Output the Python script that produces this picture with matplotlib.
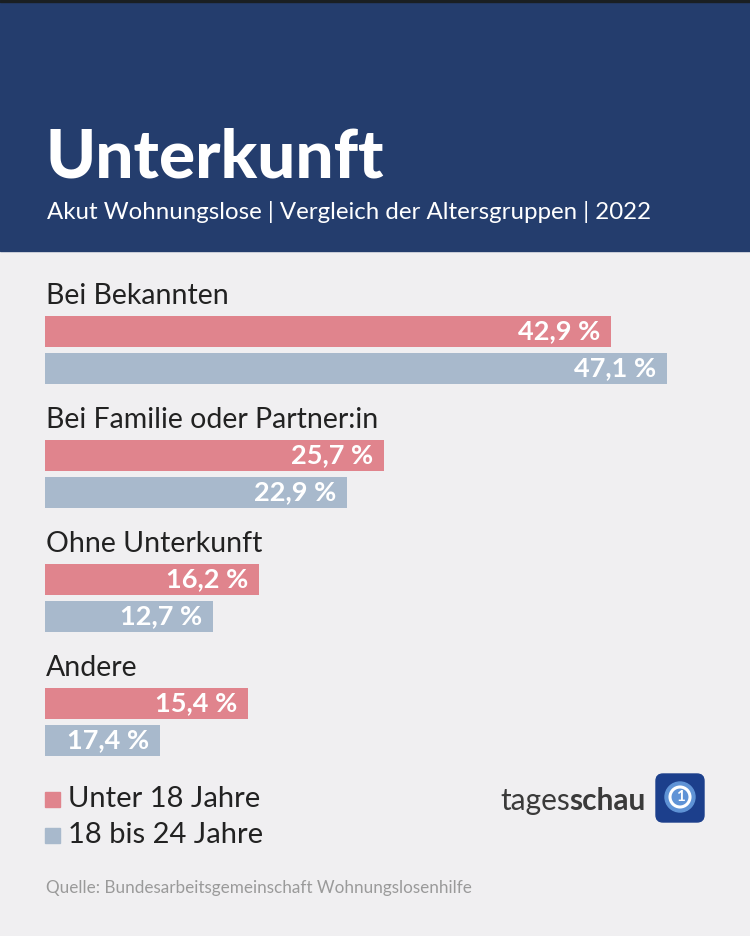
import matplotlib
matplotlib.use("Agg")
import matplotlib.pyplot as plt
from matplotlib.patches import Rectangle, FancyBboxPatch, Circle

# data
categories = ["Bei Bekannten", "Bei Familie oder Partner:in", "Ohne Unterkunft", "Andere"]
under18 = [42.9, 25.7, 16.2, 15.4]
age18_24 = [47.1, 22.9, 12.7, 17.4]
# the original draws the 17,4 % bar much too short; bar lengths as drawn
under18_drawn = [42.9, 25.7, 16.2, 15.4]
age18_24_drawn = [47.1, 22.9, 12.7, 8.7]
series_names = ["Unter 18 Jahre", "18 bis 24 Jahre"]

W, H = 750, 936
HEADER = "#243d6d"
BG = "#f0eff1"
PINK = "#e0848d"
BLUE = "#a8b9cc"
FONT = ["Lato", "DejaVu Sans"]

plt.rcParams["font.family"] = FONT

fig = plt.figure(figsize=(W / 100, H / 100), dpi=100, facecolor=BG)
bg = fig.add_axes([0, 0, 1, 1])
bg.set_xlim(0, W)
bg.set_ylim(H, 0)
bg.axis("off")

# header block
bg.add_patch(Rectangle((0, 0), W, 251, color=HEADER, zorder=0))
bg.add_patch(Rectangle((0, 0), W, 2, color="#1a1f22", zorder=1))
bg.text(45, 177, "Unterkunft", color="white", fontsize=48.5, fontweight="black", va="baseline")
bg.text(47, 219, "Akut Wohnungslose | Vergleich der Altersgruppen | 2022",
        color="white", fontsize=17.3, va="baseline")

# bars: x in percent, y in pixels
ax = fig.add_axes([45 / W, 0, 660 / W, 1])
ax.set_xlim(0, 50)
ax.set_ylim(H, 0)
ax.axis("off")

bar_h = 31
for i, cat in enumerate(categories):
    yp = 331.5 + i * 124
    yb = yp + 37
    bg.text(46, yp - 27, cat, color="#222222", fontsize=20.5, va="baseline")
    ax.barh(yp, under18_drawn[i], height=bar_h, color=PINK)
    ax.barh(yb, age18_24_drawn[i], height=bar_h, color=BLUE)
    for y, w, v in [(yp, under18_drawn[i], under18[i]), (yb, age18_24_drawn[i], age18_24[i])]:
        lbl = f"{v:.1f} %".replace(".", ",")
        ax.annotate(lbl, (w, y), xytext=(-11, 0), textcoords="offset pixels",
                    ha="right", va="center", color="white", fontsize=19.5, fontweight="bold")

# legend
for j, (name, col) in enumerate(zip(series_names, [PINK, BLUE])):
    y = 799 + j * 36
    bg.add_patch(Rectangle((45, y - 7.5), 15, 15, color=col))
    bg.text(68, y + 8, name, color="#222222", fontsize=21, va="baseline")

# tagesschau logo
t1 = bg.text(500, 810, "tages", color="#3a3a3a", fontsize=21.5, va="baseline")
fig.canvas.draw()
x_end = t1.get_window_extent().x1
bg.annotate("schau", (x_end, H - 810), xycoords="figure pixels", color="#3a3a3a",
            fontsize=21.5, fontweight="bold", va="baseline")
bg.add_patch(FancyBboxPatch((656, 774), 48, 48, boxstyle="round,pad=0,rounding_size=7",
                            color="#1c3f8c", zorder=2))
bg.add_patch(Circle((680, 797), 15, color="#5f93d6", zorder=3))
bg.add_patch(Circle((680, 797), 10, fill=False, ec="white", lw=2.2, zorder=4))
bg.text(680, 797, "1", color="white", fontsize=11, fontweight="bold",
        ha="center", va="center", zorder=5)

# source
bg.text(46, 893, "Quelle: Bundesarbeitsgemeinschaft Wohnungslosenhilfe",
        color="#9a9a9a", fontsize=12.3, va="baseline")

fig.savefig("out.png", dpi=100, facecolor=BG)
